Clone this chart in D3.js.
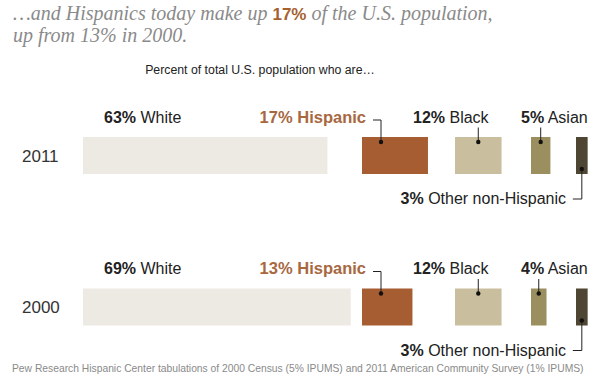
<!DOCTYPE html>
<html><head><meta charset="utf-8">
<script src="https://cdn.jsdelivr.net/npm/d3@7"></script>
<style>
html,body{margin:0;padding:0;background:#fff;}
svg{display:block;}
text{font-family:"Liberation Sans",Arial,sans-serif;}
</style></head>
<body><svg id="c" width="612" height="377"></svg>
<script>
// ---- data ----
const years = ["2011", "2000"];
const categories = ["White", "Hispanic", "Black", "Asian", "Other non-Hispanic"];
const values2011 = [63, 17, 12, 5, 3];
const values2000 = [69, 13, 12, 4, 3];
const colors = ["#edeae4", "#a65d31", "#c9bf9f", "#9c8f5f", "#4e4632"];
const titleLine1 = ["…and Hispanics today make up ", "17%", " of the U.S. population,"];
const titleLine2 = "up from 13% in 2000.";
const subtitle = "Percent of total U.S. population who are…";
const source = "Pew Research Hispanic Center tabulations of 2000 Census (5% IPUMS) and 2011 American Community Survey (1% IPUMS)";

const svg = d3.select("#c");
const valuesByYear = {"2011": values2011, "2000": values2000};

// scales
const w = d3.scaleLinear().domain([0, 100]).range([0, 388]);
const slot = d3.scaleOrdinal().domain(categories).range([83, 362, 455, 531, 576]);
const yc = d3.scalePoint().domain(years).range([155.5, 307]);
const barH = 37;

// title
const serif = "'Liberation Serif','Times New Roman',serif";
const t1 = svg.append("text").attr("x", 13).attr("y", 20)
  .style("font-family", serif)
  .style("font-style", "italic").style("font-size", "20px").attr("fill", "#8a8a8a");
t1.append("tspan").text(titleLine1[0]);
t1.append("tspan").text(titleLine1[1]).style("font-family", "'Liberation Sans',Arial,sans-serif")
  .style("font-style", "normal").style("font-weight", "bold").style("font-size", "17px").attr("fill", "#a6612f");
t1.append("tspan").text(titleLine1[2]);
svg.append("text").attr("x", 13).attr("y", 42)
  .style("font-family", serif)
  .style("font-style", "italic").style("font-size", "20px").attr("fill", "#8a8a8a")
  .text(titleLine2);

svg.append("text").attr("x", 260).attr("y", 74).attr("text-anchor", "middle")
  .style("font-size", "12.3px").attr("fill", "#222").text(subtitle);

svg.append("text").attr("x", 12).attr("y", 372)
  .style("font-size", "10.3px").attr("fill", "#8a8a8a").text(source);

// label layout per category
const layout = {
  "White":    {type: "top", x: 104, anchor: "start", noLine: true},
  "Hispanic": {type: "hisp", x: 366, anchor: "end", color: "#a7683f"},
  "Black":    {type: "top", x: 413, anchor: "start"},
  "Asian":    {type: "top", x: 521, anchor: "start"},
  "Other non-Hispanic": {type: "bottom", x: 566, anchor: "end"}
};

years.forEach(yr => {
  const c = yc(yr);
  const g = svg.append("g");
  g.append("text").attr("x", 22).attr("y", c + 6).style("font-size", "17px").attr("fill", "#333").text(yr);

  const vals = valuesByYear[yr];
  g.selectAll("rect").data(categories).join("rect")
    .attr("x", d => slot(d))
    .attr("y", c - barH / 2)
    .attr("width", (d, i) => w(vals[i]))
    .attr("height", barH)
    .attr("fill", (d, i) => colors[i]);

  categories.forEach((cat, i) => {
    const L = layout[cat];
    const v = vals[i];
    const x0 = slot(cat), bw = w(v);
    const labY = L.type === "bottom" ? c + 48.5 : c - 33;
    const txt = g.append("text").attr("x", L.x).attr("y", labY).attr("text-anchor", L.anchor)
      .style("font-size", "16px").attr("fill", L.color || "#222");
    if (cat === "Hispanic") {
      txt.style("font-weight", "bold").style("font-size", "16.5px").text(v + "% Hispanic");
    } else {
      txt.append("tspan").style("font-weight", "bold").text(v + "%");
      txt.append("tspan").text(" " + cat);
    }
    let dx;
    if (L.type === "hisp") {
      dx = x0 + 19;
      const dy = c - 13.5;
      g.append("path").attr("d", `M${dx - 8},${c - 35.5}H${dx}V${dy}`)
        .attr("fill", "none").attr("stroke", "#222").attr("stroke-width", 1);
      g.append("circle").attr("cx", dx).attr("cy", dy).attr("r", 2.2).attr("fill", "#111");
    } else if (L.type === "top" && !L.noLine) {
      dx = x0 + bw / 2;
      const dy = c - 13.5;
      g.append("line").attr("x1", dx).attr("x2", dx).attr("y1", c - 28).attr("y2", dy)
        .attr("stroke", "#222").attr("stroke-width", 1);
      g.append("circle").attr("cx", dx).attr("cy", dy).attr("r", 2.2).attr("fill", "#111");
    } else if (L.type === "bottom") {
      dx = x0 + bw / 2;
      const dy = c + 13.5;
      g.append("path").attr("d", `M${dx},${dy}V${c + 43.5}H${dx - 9}`)
        .attr("fill", "none").attr("stroke", "#222").attr("stroke-width", 1);
      g.append("circle").attr("cx", dx).attr("cy", dy).attr("r", 2.2).attr("fill", "#111");
    }
  });
});
</script>
</body></html>
